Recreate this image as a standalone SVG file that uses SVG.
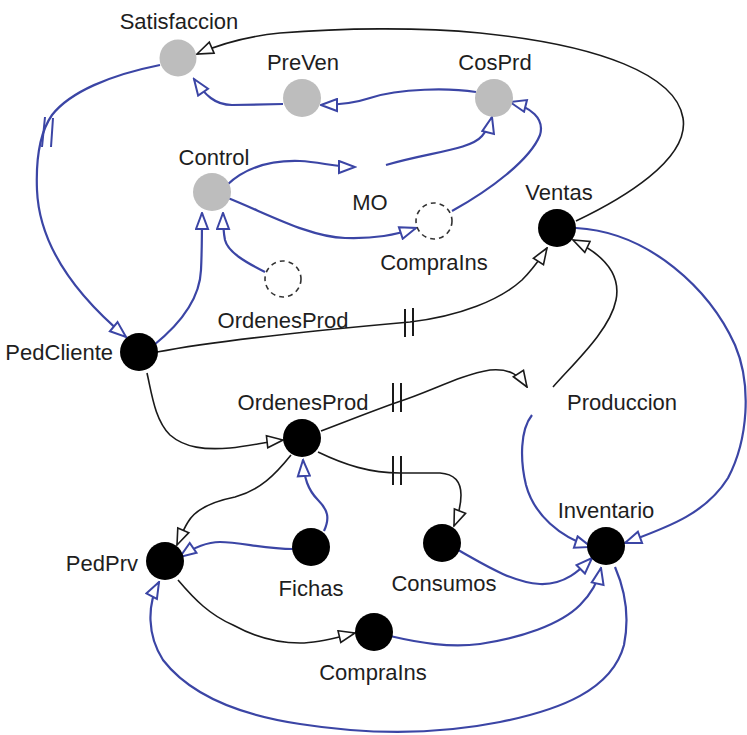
<svg xmlns="http://www.w3.org/2000/svg" width="747" height="735" viewBox="0 0 747 735">
  <style>
    .lbl { font-family: "Liberation Sans", Arial, sans-serif; font-size: 22px; fill: #1e1e1e; }
    .mid { text-anchor: middle; }
    .end { text-anchor: end; }
    .aux { fill: #bdbdbd; }
    .lvl { fill: #000; }
    .ghost { fill: none; stroke: #333; stroke-width: 1.6; stroke-dasharray: 5 4; }
    .blue { fill: none; stroke: #3b45a5; stroke-width: 2.2; marker-end: url(#arrBlue); }
    .black { fill: none; stroke: #1a1a1a; stroke-width: 1.6; marker-end: url(#arrBlack); }
    .delay { fill: none; stroke-width: 2; }
  </style>
  <defs>
    <marker id="arrBlue" viewBox="0 0 19 15" refX="17.5" refY="7.5" markerWidth="19" markerHeight="15" markerUnits="userSpaceOnUse" orient="auto">
      <path d="M1.5,1.5 L17.5,7.5 L1.5,13.5 Z" fill="#fff" stroke="#3b45a5" stroke-width="2"/>
    </marker>
    <marker id="arrBlack" viewBox="0 0 19 15" refX="17.5" refY="7.5" markerWidth="19" markerHeight="15" markerUnits="userSpaceOnUse" orient="auto">
      <path d="M1.5,1.5 L17.5,7.5 L1.5,13.5 Z" fill="#fff" stroke="#1a1a1a" stroke-width="1.6"/>
    </marker>
  </defs>

  <rect width="747" height="735" fill="#fff"/>

  <g id="connectors">
    <!-- Ventas -> Satisfaccion -->
    <path class="black" d="M576,221 C620,200 690,160 683,118 C676,75 600,45 480,33 C420,27 340,28 280,33 C250,36 220,44 197,54"/>
    <!-- PreVen -> Satisfaccion -->
    <path class="blue" d="M283,104 L232,105 C215,105 205,95 194,79"/>
    <!-- CosPrd -> PreVen -->
    <path class="blue" d="M476,92 C450,88 400,88 370,98 C355,103 340,105 321,105"/>
    <!-- MO -> CosPrd -->
    <path class="blue" d="M386,165 C430,152 470,150 482,136 C487,130 490,125 492,117"/>
    <!-- CompraIns (ghost) -> CosPrd -->
    <path class="blue" d="M452,211 C490,190 530,160 540,135 C545,118 530,107 510,102"/>
    <!-- Control -> MO -->
    <path class="blue" d="M227,185 C245,168 270,160 300,161 C320,162 335,167 355,167"/>
    <!-- Control -> CompraIns (ghost) -->
    <path class="blue" d="M228,198 C270,215 310,237 345,238 C375,239 395,235 416,228"/>
    <!-- OrdenesProd (ghost) -> Control -->
    <path class="blue" d="M265,272 C245,262 228,252 225,240 C223,230 223,222 223,213"/>
    <!-- PedCliente -> Control -->
    <path class="blue" d="M154,345 C185,320 200,295 201,270 C202,250 202,232 202,213"/>
    <!-- Satisfaccion -> PedCliente (delayed) -->
    <path class="blue" d="M160,65 C110,75 70,92 52,115 C38,135 36,165 37,190 C39,240 70,290 126,337"/>
    <path class="delay" stroke="#3b45a5" d="M45,117 L42,147 M53,118 L51,147"/>
    <!-- PedCliente -> Ventas (delayed) -->
    <path class="black" d="M157,352 C220,340 320,330 410,322 C460,316 500,300 522,280 C532,270 540,259 547,248"/>
    <path class="delay" stroke="#1a1a1a" d="M405,309 L405,337 M413,308 L413,336"/>
    <!-- Produccion -> Ventas -->
    <path class="black" d="M553,387 C575,362 610,330 616,300 C622,270 598,252 573,240"/>
    <!-- Ventas -> Inventario -->
    <path class="blue" d="M576,228 C650,232 710,290 735,345 C752,385 748,440 728,478 C705,515 665,528 625,543"/>
    <!-- Produccion -> Inventario -->
    <path class="blue" d="M532,415 C520,430 520,460 526,485 C534,515 560,537 591,547"/>
    <!-- OrdenesProd -> Produccion (delayed) -->
    <path class="black" d="M321,431 C350,420 375,410 398,402 C430,392 460,375 490,370 C510,368 520,376 527,387"/>
    <path class="delay" stroke="#1a1a1a" d="M393,383 L393,412 M401,383 L401,412"/>
    <!-- OrdenesProd -> Consumos (delayed) -->
    <path class="black" d="M318,452 C345,465 370,473 400,473 L440,473 C455,474 461,482 461,495 C461,507 458,516 454,526"/>
    <path class="delay" stroke="#1a1a1a" d="M393,456 L393,485 M401,456 L401,485"/>
    <!-- Fichas -> OrdenesProd -->
    <path class="blue" d="M324,531 C330,518 328,510 318,500 C308,490 304,478 303,460"/>
    <!-- Fichas -> PedPrv -->
    <path class="blue" d="M293,549 C265,549 240,542 220,542 C205,542 193,548 180,557"/>
    <!-- OrdenesProd -> PedPrv -->
    <path class="black" d="M291,455 C275,475 260,490 235,497 C210,502 195,510 188,522 C183,530 180,538 177,545"/>
    <!-- PedCliente -> OrdenesProd -->
    <path class="black" d="M147,373 C152,395 155,420 170,435 C185,448 205,450 230,448 C250,446 265,442 283,440"/>
    <!-- PedPrv -> CompraIns -->
    <path class="black" d="M178,580 C195,600 210,615 233,625 C255,637 275,643 300,643 C320,643 338,637 355,633"/>
    <!-- Consumos -> Inventario -->
    <path class="blue" d="M458,550 C480,562 510,582 540,584 C565,585 580,570 592,558"/>
    <!-- CompraIns -> Inventario -->
    <path class="blue" d="M390,636 C420,643 450,648 480,644 C520,638 560,625 580,605 C592,593 598,582 601,568"/>
    <!-- Inventario -> PedPrv -->
    <path class="blue" d="M615,567 C625,590 630,615 624,645 C612,690 560,710 500,722 C440,734 370,735 300,724 C240,715 190,695 163,660 C147,635 147,605 159,582"/>
  </g>

  <g id="Satisfaccion">
    <circle class="aux" cx="178" cy="58" r="18.5"/>
    <text class="lbl mid" x="179" y="29">Satisfaccion</text>
  </g>
  <g id="PreVen">
    <circle class="aux" cx="302" cy="98" r="19"/>
    <text class="lbl mid" x="303" y="70">PreVen</text>
  </g>
  <g id="CosPrd">
    <circle class="aux" cx="494" cy="98" r="19"/>
    <text class="lbl mid" x="495" y="70">CosPrd</text>
  </g>
  <g id="Control">
    <circle class="aux" cx="212" cy="192" r="19"/>
    <text class="lbl mid" x="214" y="165">Control</text>
  </g>
  <g id="MO">
    <text class="lbl mid" x="370" y="210">MO</text>
  </g>
  <g id="CompraInsGhost">
    <circle class="ghost" cx="434" cy="221" r="18"/>
    <text class="lbl mid" x="434" y="270">CompraIns</text>
  </g>
  <g id="OrdenesProdGhost">
    <circle class="ghost" cx="283" cy="279" r="18"/>
    <text class="lbl mid" x="283" y="328">OrdenesProd</text>
  </g>
  <g id="Ventas">
    <circle class="lvl" cx="557" cy="228" r="19"/>
    <text class="lbl mid" x="559" y="200">Ventas</text>
  </g>
  <g id="PedCliente">
    <circle class="lvl" cx="139" cy="352" r="19"/>
    <text class="lbl end" x="113" y="360">PedCliente</text>
  </g>
  <g id="OrdenesProd">
    <circle class="lvl" cx="302" cy="438" r="19"/>
    <text class="lbl mid" x="303" y="410">OrdenesProd</text>
  </g>
  <g id="Produccion">
    <text class="lbl" x="567" y="410">Produccion</text>
  </g>
  <g id="Inventario">
    <circle class="lvl" cx="606" cy="546" r="19"/>
    <text class="lbl mid" x="606" y="518">Inventario</text>
  </g>
  <g id="Consumos">
    <circle class="lvl" cx="442" cy="543" r="19"/>
    <text class="lbl mid" x="444" y="591">Consumos</text>
  </g>
  <g id="Fichas">
    <circle class="lvl" cx="311" cy="547" r="19"/>
    <text class="lbl mid" x="311" y="596">Fichas</text>
  </g>
  <g id="PedPrv">
    <circle class="lvl" cx="165" cy="561" r="19"/>
    <text class="lbl end" x="138" y="571">PedPrv</text>
  </g>
  <g id="CompraIns">
    <circle class="lvl" cx="374" cy="632" r="19"/>
    <text class="lbl mid" x="373" y="680">CompraIns</text>
  </g>
</svg>
